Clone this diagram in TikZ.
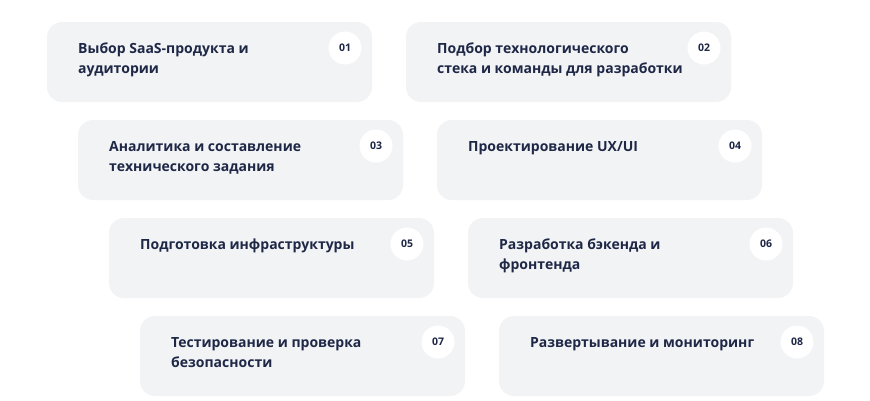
\documentclass[tikz,border=0pt]{standalone}
\usepackage{fontspec}
\setmainfont{Open Sans}
\usetikzlibrary{positioning}
\definecolor{cardgray}{HTML}{F2F3F5}
\definecolor{inkblue}{HTML}{1E2746}

\begin{document}
\begin{tikzpicture}[x=1pt,y=-1pt,
    card/.style={fill=cardgray,rounded corners=15pt,minimum width=325pt,minimum height=80pt,inner sep=0pt},
    cardtext/.style={anchor=north west,inner sep=0pt,align=left,text=inkblue,font=\bfseries\fontsize{14}{20}\selectfont},
    badge/.style={circle,fill=white,minimum size=33pt,inner sep=0pt,text=inkblue,font=\bfseries\fontsize{10.5}{12}\selectfont}]
        \useasboundingbox (0,0) rectangle (870,400);
        % First Row
        \node[card] (card1) at (209.5,62) {};
        \node[cardtext] (txt1) at (78,43) {Выбор SaaS-продукта и\\аудитории};
        \node[badge] (num1) at (345,48) {01};
        \node[card] (card2) at (568.5,62) {};
        \node[cardtext] (txt2) at (437,43) {Подбор технологического\\стека и команды для разработки};
        \node[badge] (num2) at (704,48) {02};
        % Second Row
        \node[card] (card3) at (240.5,160) {};
        \node[cardtext] (txt3) at (109,141) {Аналитика и составление\\технического задания};
        \node[badge] (num3) at (376,146) {03};
        \node[card] (card4) at (599.5,160) {};
        \node[cardtext] (txt4) at (468,141) {Проектирование UX/UI};
        \node[badge] (num4) at (735,146) {04};
        % Third Row
        \node[card] (card5) at (271.5,258) {};
        \node[cardtext] (txt5) at (140,239) {Подготовка инфраструктуры};
        \node[badge] (num5) at (407,244) {05};
        \node[card] (card6) at (630.5,258) {};
        \node[cardtext] (txt6) at (499,239) {Разработка бэкенда и\\фронтенда};
        \node[badge] (num6) at (766,244) {06};
        % Fourth Row
        \node[card] (card7) at (302.5,356) {};
        \node[cardtext] (txt7) at (171,337) {Тестирование и проверка\\безопасности};
        \node[badge] (num7) at (438,342) {07};
        \node[card] (card8) at (661.5,356) {};
        \node[cardtext] (txt8) at (530,337) {Развертывание и мониторинг};
        \node[badge] (num8) at (797,342) {08};
\end{tikzpicture}
\end{document}
